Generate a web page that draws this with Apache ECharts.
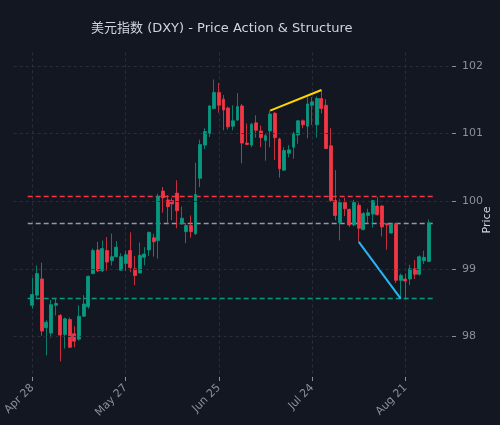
<!DOCTYPE html>
<html><head><meta charset="utf-8">
<script src="https://cdn.jsdelivr.net/npm/echarts@6/dist/echarts.min.js"></script>
<style>html,body{margin:0;padding:0;background:#131722;}#c{width:500px;height:425px;}</style>
</head><body><div id="c"></div>
<script>
// OHLC per trading day: [open, close, low, high]
const candles = [
[98.46,98.62,98.41,98.87],[98.61,98.93,98.56,99.05],[98.85,98.08,98.01,99.09],[98.13,98.21,97.72,98.24],
[98.05,98.47,97.98,98.54],[98.46,98.49,98.31,98.57],[98.31,98.02,97.63,98.33],[98.03,98.26,97.82,98.28],
[98.25,97.84,97.83,98.28],[98.04,97.93,97.84,98.15],[97.96,98.30,97.94,98.46],[98.30,98.48,98.29,98.61],
[98.44,98.89,98.41,98.90],[98.93,99.27,98.92,99.30],[99.28,98.97,98.95,99.40],[98.97,99.30,98.95,99.42],
[99.27,99.10,98.97,99.47],[99.12,99.18,99.05,99.52],[99.18,99.32,99.17,99.41],[98.98,99.18,98.97,99.23],
[99.08,99.21,98.97,99.27],[99.27,99.02,98.95,99.54],[99.00,98.90,98.76,99.19],[98.94,99.20,98.93,99.39],
[99.17,99.22,99.05,99.32],[99.28,99.54,99.19,99.55],[99.46,99.40,99.18,99.52],[99.42,100.07,99.15,100.11],
[100.15,100.05,99.83,100.21],[100.02,99.92,99.67,100.09],[100.01,99.96,99.72,100.05],[100.12,99.86,99.60,100.31],
[99.67,99.75,99.65,99.92],[99.55,99.64,99.38,99.68],[99.64,99.55,99.46,99.79],[99.52,100.10,99.50,100.57],
[100.34,100.84,100.21,100.91],[100.83,101.03,100.77,101.08],[101.00,101.41,100.95,101.42],[101.37,101.61,101.36,101.80],
[101.61,101.42,101.31,101.75],[101.51,101.35,101.05,101.57],[101.38,101.10,101.06,101.40],[101.11,101.19,101.05,101.42],
[101.20,101.40,101.19,101.60],[101.41,100.86,100.56,101.44],[100.86,100.84,100.83,101.15],[100.83,101.14,100.80,101.16],
[101.16,101.05,100.94,101.27],[101.04,100.94,100.80,101.12],[100.90,100.97,100.60,101.00],[101.04,101.29,100.80,101.34],
[101.30,100.94,100.61,101.32],[100.92,100.48,100.35,100.94],[100.46,100.75,100.45,100.80],[100.71,100.76,100.65,100.83],
[100.80,101.00,100.63,101.03],[100.98,101.19,100.85,101.20],[101.19,101.13,101.08,101.21],[101.11,101.44,100.93,101.54],
[101.42,101.47,101.13,101.54],[101.13,101.52,100.94,101.55],[101.52,101.37,101.30,101.64],[101.42,100.78,100.77,101.51],
[100.82,100.01,99.99,101.08],[100.01,99.79,99.72,100.46],[99.68,99.98,99.42,100.03],[99.98,99.89,99.78,100.05],
[99.88,99.65,99.62,99.89],[99.65,99.98,99.63,100.02],[99.94,99.60,99.40,99.98],[99.58,99.82,99.57,99.84],
[99.79,99.83,99.67,99.89],[99.81,100.01,99.61,100.02],[99.93,99.80,99.79,100.06],[99.93,99.62,99.48,99.94],
[99.67,99.65,99.28,99.68],[99.53,99.66,99.52,99.67],[99.67,98.83,98.79,99.68],[98.83,98.90,98.56,98.93],
[98.85,98.82,98.56,98.93],[98.85,99.00,98.76,99.06],[99.00,98.92,98.85,99.13],[98.92,99.18,98.90,99.20],
[99.12,99.17,99.07,99.27],[99.11,99.68,99.10,99.73]
];
const tickLabels = ['Apr 28','May 27','Jun 25','Jul 24','Aug 21'];
const tickIdx = [0,20,40,60,80];
const yTicks = [98,99,100,101,102];
const resistance = 100.07, pivot = 99.67, support = 98.56;
const yellowPts = [[51,101.34],[62,101.645]];
const bluePts = [[70,99.40],[79,98.56]];

const PADL = 4, PADR = 5;
const N = candles.length;
const cats = [];
for (let i = -PADL; i < N + PADR; i++) cats.push(String(i));
const labelMap = {};
tickIdx.forEach((t,k)=>labelMap[String(t)] = tickLabels[k]);
const candleData = cats.map((c,j)=>{const i=j-PADL; return (i>=0&&i<N)?candles[i]:'-';});
const hline = (v)=>cats.map((c,j)=>{const i=j-PADL; return (i>=-1&&i<=86)?v:'-';});
const seg = (pts)=>{const m={}; pts.forEach(p=>m[p[0]]=p[1]); return cats.map((c,j)=>{const i=j-PADL; return (i in m)?m[i]:'-';});};
const isTick = (idx)=>labelMap[cats[idx]]!==undefined;

const chart = echarts.init(document.getElementById('c'));
chart.setOption({
  backgroundColor:'#131722',
  animation:false,
  title:{text:'美元指数 (DXY) - Price Action & Structure', left:86, top:17,
    textStyle:{color:'#d1d4dc', fontSize:13, fontWeight:'normal', fontFamily:'DejaVu Sans, Noto Sans CJK SC'}},
  graphic:[{type:'text', x:487, y:220, rotation:Math.PI/2,
    style:{text:'Price', fill:'#d1d4dc', font:'11px DejaVu Sans', align:'center', verticalAlign:'middle'}}],
  grid:{left:13.7, right:48, top:52.5, bottom:48, containLabel:false, outerBoundsMode:'none'},
  xAxis:{type:'category', data:cats, boundaryGap:false,
    axisLine:{show:false},
    axisTick:{show:true, interval:(i)=>isTick(i), length:4, lineStyle:{color:'#8a8f98'}},
    axisLabel:{interval:(i)=>isTick(i), formatter:(v)=>labelMap[v]||'', rotate:45, color:'#8a8f98', fontSize:11, fontFamily:'DejaVu Sans', margin:9},
    splitLine:{show:true, interval:(i)=>isTick(i), lineStyle:{color:'#2a2e39', type:[3,3], width:1}}},
  yAxis:{type:'value', position:'right', min:97.4, max:102.2,
    axisLine:{show:false},
    axisTick:{show:true, customValues:yTicks, length:4, lineStyle:{color:'#8a8f98'}},
    axisLabel:{customValues:yTicks, color:'#8a8f98', fontSize:11, fontFamily:'DejaVu Sans', margin:10},
    splitLine:{show:false}},
  series:[
    {type:'line', data:[], symbol:'none', silent:true,
      markLine:{symbol:'none', silent:true, label:{show:false},
        lineStyle:{color:'#2a2e39', type:[3,3], width:1},
        data:yTicks.map(v=>({yAxis:v}))}},
    {type:'line', data:hline(resistance), symbol:'none', lineStyle:{color:'#f23645', width:1.5, type:[5,3]}, z:1},
    {type:'line', data:hline(pivot), symbol:'none', lineStyle:{color:'#9598a1', width:1.5, type:[5,3]}, z:1},
    {type:'line', data:hline(support), symbol:'none', lineStyle:{color:'#089981', width:1.5, type:[5,3]}, z:1},
    {type:'candlestick', data:candleData, barWidth:3.4, z:3,
      itemStyle:{color:'#089981', color0:'#f23645', borderColor:'#089981', borderColor0:'#f23645', borderWidth:0.8}},
    {type:'line', data:seg(yellowPts), connectNulls:true, symbol:'none', lineStyle:{color:'#ffd600', width:2}, z:4},
    {type:'line', data:seg(bluePts), connectNulls:true, symbol:'none', lineStyle:{color:'#29b6f6', width:2}, z:4}
  ]
});
</script></body></html>
